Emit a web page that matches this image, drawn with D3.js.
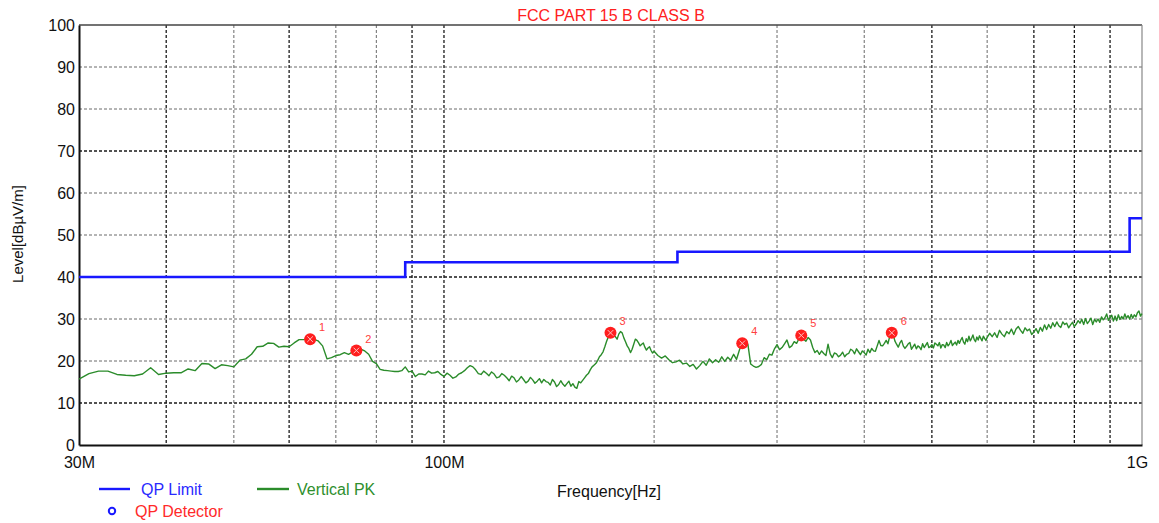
<!DOCTYPE html>
<html>
<head>
<meta charset="utf-8">
<script src="https://cdn.jsdelivr.net/npm/d3@7"></script>
<style>
  html, body { margin: 0; padding: 0; background: #fff; }
  svg { display: block; font-family: "Liberation Sans", Arial, sans-serif; }
</style>
</head>
<body>
<svg id="chart" width="1159" height="523"></svg>
<script>
// ---- chart data ----
const chartTitle = "FCC PART 15 B CLASS B";
const yTicks = [0, 10, 20, 30, 40, 50, 60, 70, 80, 90, 100];
const xTickValues = [30, 100, 1000];            // MHz
const xTickLabels = ["30M", "100M", "1G"];
const gridFreqs = [40, 50, 60, 70, 80, 90, 100, 200, 300, 400, 500, 600, 700, 800, 900];

// QP limit steps (MHz, dBµV/m)
const limitFreq  = [30, 88, 216, 960, 1000];
const limitLevel = [40, 43.5, 46, 54, 54];

// Vertical peak sweep (MHz)
const traceFreq = [
  30,31,32,33,34,35,36,37,38,39,40,41,42,43,44,45,46,47,48,49,
  50,51,52,53,54,55,56,57,58,59,60,61,62,63,64,65,66,67,68,69,
  70,71,72,73,74,75,76,77,78,79,80,81,82,83,84,85,86,87,88,89,
  90,91,92,93,94,95,96,97,98,99,
  100,101,102,103,104,105,106,107,108,109,110,111,112,113,114,115,116,117,118,119,
  120,121,122,123,124,125,126,127,128,129,130,131,132,133,134,135,136,137,138,139,
  140,141,142,143,144,145,146,147,148,149,150,151,152,153,154,155,156,157,158,159,
  160,161,162,163,164,165,166,167,168,169,170,171,172,173,174,175,176,177,178,179,
  180,181,182,183,184,185,186,187,188,189,190,191,192,193,194,195,196,197,198,199,
  200,
  202.5,205,207.5,210,212.5,215,217.5,220,222.5,225,227.5,230,232.5,235,237.5,240,242.5,245,247.5,250,
  252.5,255,257.5,260,262.5,265,267.5,270,272.5,275,277.5,280,282.5,285,287.5,290,292.5,295,297.5,300,
  302.5,305,307.5,310,312.5,315,317.5,320,322.5,325,327.5,330,332.5,335,337.5,340,342.5,345,347.5,350,
  352.5,355,357.5,360,362.5,365,367.5,370,372.5,375,377.5,380,382.5,385,387.5,390,392.5,395,397.5,400,
  402.5,405,407.5,410,412.5,415,417.5,420,422.5,425,427.5,430,432.5,435,437.5,440,442.5,445,447.5,450,
  452.5,455,457.5,460,462.5,465,467.5,470,472.5,475,477.5,480,482.5,485,487.5,490,492.5,495,497.5,500,
  502.5,505,507.5,510,512.5,515,517.5,520,522.5,525,527.5,530,532.5,535,537.5,540,542.5,545,547.5,550,
  552.5,555,557.5,560,562.5,565,567.5,570,572.5,575,577.5,580,582.5,585,587.5,590,592.5,595,597.5,600,
  605,610,615,620,625,630,635,640,645,650,655,660,665,670,675,680,685,690,695,700,
  705,710,715,720,725,730,735,740,745,750,755,760,765,770,775,780,785,790,795,800,
  805,810,815,820,825,830,835,840,845,850,855,860,865,870,875,880,885,890,895,900,
  905,910,915,920,925,930,935,940,945,950,955,960,965,970,975,980,985,990,995,1000
];
// Vertical peak level (dBµV/m)
const traceLevel = [
  15.7,17.0,17.6,17.6,16.8,16.6,16.5,16.9,18.4,16.8,17.1,17.2,17.2,18.1,17.7,19.4,19.3,18.2,19.1,18.9,
  18.6,20.2,20.5,21.6,23.4,23.5,24.3,24.2,23.3,23.5,23.4,24.3,25.1,25.1,25.5,25.2,24.8,23.6,20.5,20.8,
  21.3,21.5,22.0,21.6,22.2,22.7,22.8,22.4,21.6,19.9,19.4,18.0,17.8,17.7,17.6,17.5,17.5,17.7,18.6,17.4,
  17.6,16.3,16.9,16.9,16.7,17.6,17.1,17.2,17.5,16.8,
  16.3,17.1,16.6,15.9,16.2,16.9,17.2,17.7,18.4,18.9,18.6,17.9,17.0,16.8,17.6,17.1,16.5,17.4,16.9,16.0,
  16.2,17.0,16.6,16.0,15.3,16.4,16.0,15.0,15.5,16.3,15.6,14.8,15.2,16.1,15.5,14.7,15.2,15.8,14.8,15.6,
  15.1,14.9,14.3,15.6,15.0,13.9,14.4,15.3,14.5,14.0,14.6,15.2,14.0,14.6,13.8,13.5,15.1,14.8,15.4,16.0,
  16.6,17.0,17.9,18.6,19.0,19.4,20.1,21.0,21.5,22.2,23.4,24.7,25.8,26.4,26.7,26.0,25.8,25.2,26.4,27.0,
  26.7,25.5,24.6,23.6,23.0,22.0,22.8,24.0,25.2,24.9,24.3,23.6,24.0,24.3,23.3,22.6,23.1,23.4,22.5,21.9,
  22.3,
  21.3,20.7,21.2,20.3,19.6,19.8,20.2,19.3,19.5,18.7,19.2,18.1,18.9,19.9,19.0,20.5,19.6,20.3,19.7,21.0,
  19.9,20.9,20.2,21.6,20.4,22.6,24.4,23.3,24.0,19.3,18.8,18.5,18.7,19.2,20.8,20.3,21.6,21.4,22.9,23.9,
  22.7,23.2,24.1,25.0,23.2,23.6,24.6,24.2,25.3,26.0,25.2,24.7,25.6,25.0,23.2,22.0,22.5,21.6,22.4,21.8,
  21.3,24.0,21.7,20.8,21.9,21.7,21.0,21.4,22.1,21.0,21.6,21.8,22.8,22.5,21.7,22.9,22.2,21.5,22.4,22.0,
  21.4,22.8,22.0,23.0,22.4,22.3,23.6,24.9,23.7,23.6,24.2,24.9,24.1,25.8,26.9,26.4,24.8,24.0,23.3,24.3,
  24.9,23.6,23.0,23.5,24.1,24.4,22.8,23.4,24.0,22.9,23.6,23.3,22.7,24.1,23.2,23.8,24.4,23.2,23.4,23.9,
  23.1,24.3,24.0,23.6,24.4,23.1,23.9,23.8,23.2,24.4,23.6,24.1,24.9,23.7,24.1,24.5,23.8,24.9,24.2,25.0,
  25.6,24.5,24.0,25.3,24.6,25.9,24.8,25.4,26.2,25.1,24.6,25.7,25.0,26.0,25.4,24.8,25.9,25.4,24.9,25.6,
  26.6,25.8,26.7,25.6,27.3,26.4,25.8,27.0,26.5,27.6,26.3,27.6,28.2,27.3,26.6,27.9,27.2,27.6,26.3,26.9,
  27.7,26.6,28.0,27.1,28.6,27.5,28.7,27.8,29.1,28.2,29.3,28.4,28.0,29.3,28.7,29.0,27.9,28.6,29.2,28.2,
  28.8,29.6,29.0,29.9,28.7,30.1,28.9,29.5,30.2,28.7,29.9,29.3,30.0,29.2,30.5,29.8,30.3,31.2,29.7,30.3,
  30.9,29.5,30.7,29.6,31.0,29.9,30.6,30.0,31.2,30.2,30.8,30.0,31.1,30.2,31.0,30.5,31.5,31.9,30.7,31.3
];

// Peak markers
const markerFreq   = [64.3, 74.9, 173.2, 267.5, 325.0, 438.0];
const markerLevel  = [25.2, 22.5, 26.7, 24.2, 26.1, 26.7];
const markerLabels = ["1", "2", "3", "4", "5", "6"];

// ---- layout ----
const svg = d3.select("#chart");
const plot = { left: 79, right: 1142, top: 25, bottom: 445 };

const x = d3.scaleLog().domain([30, 1000]).range([plot.left, plot.right]);
const y = d3.scaleLinear().domain([0, 100]).range([plot.bottom, plot.top]);

const darkFreqs = new Set([40, 60, 90, 100, 500, 700, 800, 900]);
const darkLevels = new Set([10, 40, 70]);

// ---- grid ----
const grid = svg.append("g");
grid.selectAll("line.h")
  .data(yTicks.filter(v => v > 0 && v < 100))
  .join("line")
  .attr("x1", plot.left).attr("x2", plot.right)
  .attr("y1", d => y(d)).attr("y2", d => y(d))
  .attr("stroke", d => darkLevels.has(d) ? "#1a1a1a" : "#6a6a6a")
  .attr("stroke-width", d => darkLevels.has(d) ? 1.3 : 1)
  .attr("stroke-dasharray", "3,2");

grid.selectAll("line.v")
  .data(gridFreqs)
  .join("line")
  .attr("x1", d => x(d)).attr("x2", d => x(d))
  .attr("y1", plot.top).attr("y2", plot.bottom)
  .attr("stroke", d => darkFreqs.has(d) ? "#1a1a1a" : "#6a6a6a")
  .attr("stroke-width", d => darkFreqs.has(d) ? 1.3 : 1)
  .attr("stroke-dasharray", "3,2");

// ---- frame ----
svg.append("line").attr("x1", plot.left).attr("x2", plot.right)
  .attr("y1", plot.top).attr("y2", plot.top)
  .attr("stroke", "#444").attr("stroke-width", 1.6);
svg.append("line").attr("x1", plot.right).attr("x2", plot.right)
  .attr("y1", plot.top).attr("y2", plot.bottom)
  .attr("stroke", "#888").attr("stroke-width", 1.2);

// ---- axes ----
const yAxis = svg.append("g")
  .attr("transform", `translate(${plot.left},0)`)
  .call(d3.axisLeft(y).tickValues(yTicks).tickSize(0).tickPadding(4));
yAxis.select(".domain").attr("stroke", "#111").attr("stroke-width", 2);
yAxis.selectAll("text")
  .attr("font-size", 16).attr("font-family", "Liberation Sans, Arial, sans-serif")
  .attr("fill", "#111");

const xAxis = svg.append("g")
  .attr("transform", `translate(0,${plot.bottom})`)
  .call(d3.axisBottom(x).tickValues(xTickValues)
    .tickFormat((d, i) => xTickLabels[i]).tickSize(0).tickPadding(12));
xAxis.select(".domain").attr("stroke", "#111").attr("stroke-width", 2);
xAxis.selectAll("text")
  .attr("font-size", 16).attr("font-family", "Liberation Sans, Arial, sans-serif")
  .attr("fill", "#111")
  .attr("dx", d => d === 1000 ? -5 : 0);

// ---- QP limit ----
const limitData = limitFreq.map((f, i) => [f, limitLevel[i]]);
svg.append("path")
  .datum(limitData)
  .attr("fill", "none")
  .attr("stroke", "#1818ff")
  .attr("stroke-width", 2.6)
  .attr("d", d3.line().x(d => x(d[0])).y(d => y(d[1])).curve(d3.curveStepAfter));

// ---- vertical peak trace ----
const traceData = traceFreq.map((f, i) => [f, traceLevel[i]]);
svg.append("path")
  .datum(traceData)
  .attr("fill", "none")
  .attr("stroke", "#2b8c2b")
  .attr("stroke-width", 1.4)
  .attr("stroke-linejoin", "round")
  .attr("d", d3.line().x(d => x(d[0])).y(d => y(d[1])));

// ---- markers ----
const markers = svg.append("g").selectAll("g")
  .data(markerFreq.map((f, i) => ({ f, l: markerLevel[i], label: markerLabels[i] })))
  .join("g")
  .attr("transform", d => `translate(${x(d.f)},${y(d.l)})`);
markers.append("circle").attr("r", 6).attr("fill", "#ff1e1e");
markers.append("path")
  .attr("d", "M-2.8,-2.8L2.8,2.8M-2.8,2.8L2.8,-2.8")
  .attr("stroke", "#ffc0c0").attr("stroke-width", 1);
markers.append("text")
  .attr("x", 9).attr("y", -8)
  .attr("font-size", 11).attr("fill", "#ff4040")
  .text(d => d.label);

// ---- titles ----
svg.append("text")
  .attr("x", 611).attr("y", 21)
  .attr("text-anchor", "middle")
  .attr("font-size", 16).attr("fill", "#ff2020")
  .text(chartTitle);

svg.append("text")
  .attr("transform", "translate(23,234) rotate(-90)")
  .attr("text-anchor", "middle")
  .attr("font-size", 15).attr("fill", "#111")
  .text("Level[dBµV/m]");

svg.append("text")
  .attr("x", 557).attr("y", 497)
  .attr("font-size", 16).attr("fill", "#111")
  .text("Frequency[Hz]");

// ---- legend ----
const legend = svg.append("g");
legend.append("line").attr("x1", 99).attr("x2", 130).attr("y1", 489).attr("y2", 489)
  .attr("stroke", "#1818ff").attr("stroke-width", 2.4);
legend.append("text").attr("x", 141).attr("y", 495)
  .attr("font-size", 16).attr("fill", "#2a2aff").text("QP Limit");
legend.append("line").attr("x1", 257).attr("x2", 289).attr("y1", 489).attr("y2", 489)
  .attr("stroke", "#2b8c2b").attr("stroke-width", 2.4);
legend.append("text").attr("x", 297).attr("y", 495)
  .attr("font-size", 16).attr("fill", "#2e8f2e").text("Vertical PK");
legend.append("circle").attr("cx", 112).attr("cy", 511).attr("r", 3.2)
  .attr("fill", "none").attr("stroke", "#1818ff").attr("stroke-width", 2);
legend.append("text").attr("x", 135).attr("y", 517)
  .attr("font-size", 16).attr("fill", "#ff2a2a").text("QP Detector");
</script>
</body>
</html>
